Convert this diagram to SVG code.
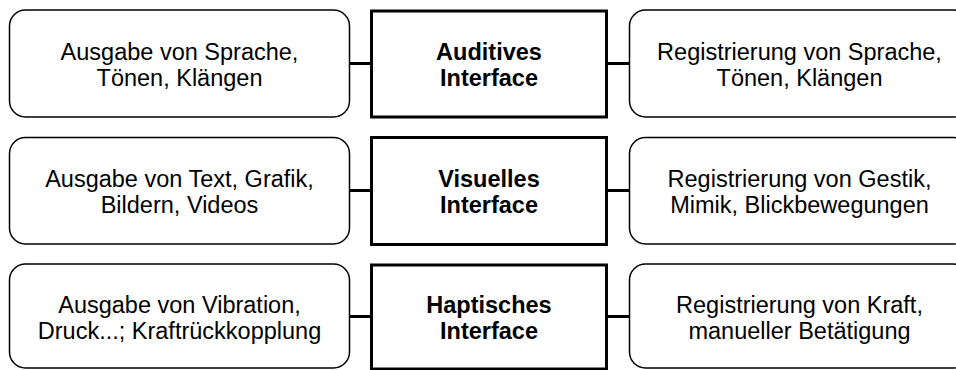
<svg xmlns="http://www.w3.org/2000/svg" width="956" height="370" viewBox="0 0 956 370">
  <style>
    .side { fill: #ffffff; stroke: #000000; stroke-width: 1.5; }
    .core { fill: #ffffff; stroke: #000000; stroke-width: 3; }
    .conn { stroke: #000000; stroke-width: 3; fill: none; }
    text { font-family: "Liberation Sans", Arial, sans-serif; font-size: 23.5px; fill: #000000; text-anchor: middle; }
    .bold { font-weight: bold; }
  </style>
  <rect x="0" y="0" width="956" height="370" fill="#ffffff"/>
  <g id="connectors">
    <line class="conn" x1="349" y1="63.5" x2="371" y2="63.5"/>
    <line class="conn" x1="606" y1="63.5" x2="629" y2="63.5"/>
    <line class="conn" x1="349" y1="190.5" x2="371" y2="190.5"/>
    <line class="conn" x1="606" y1="190.5" x2="629" y2="190.5"/>
    <line class="conn" x1="349" y1="316.5" x2="371" y2="316.5"/>
    <line class="conn" x1="606" y1="316.5" x2="629" y2="316.5"/>
  </g>
  <g id="out-audio">
    <rect class="side" x="9.5" y="10" width="340" height="107" rx="16"/>
    <text x="179.5" y="59.5">Ausgabe von Sprache,</text>
    <text x="179.5" y="85.5">Tönen, Klängen</text>
  </g>
  <g id="if-audio">
    <rect class="core" x="371.5" y="11" width="235" height="106"/>
    <text class="bold" x="489" y="59.5">Auditives</text>
    <text class="bold" x="489" y="85.5">Interface</text>
  </g>
  <g id="in-audio">
    <rect class="side" x="629.5" y="10" width="340" height="107" rx="16"/>
    <text x="799.5" y="59.5">Registrierung von Sprache,</text>
    <text x="799.5" y="85.5">Tönen, Klängen</text>
  </g>
  <g id="out-visual">
    <rect class="side" x="9.5" y="137.5" width="340" height="106.5" rx="16"/>
    <text x="179.5" y="186.5">Ausgabe von Text, Grafik,</text>
    <text x="179.5" y="212.5">Bildern, Videos</text>
  </g>
  <g id="if-visual">
    <rect class="core" x="371.5" y="137.5" width="235" height="107"/>
    <text class="bold" x="489" y="186.5">Visuelles</text>
    <text class="bold" x="489" y="212.5">Interface</text>
  </g>
  <g id="in-visual">
    <rect class="side" x="629.5" y="137.5" width="340" height="106.5" rx="16"/>
    <text x="799.5" y="186.5">Registrierung von Gestik,</text>
    <text x="799.5" y="212.5">Mimik, Blickbewegungen</text>
  </g>
  <g id="out-haptic">
    <rect class="side" x="9.5" y="264" width="340" height="104" rx="16"/>
    <text x="179.5" y="312.5">Ausgabe von Vibration,</text>
    <text x="179.5" y="338.5">Druck...; Kraftrückkopplung</text>
  </g>
  <g id="if-haptic">
    <rect class="core" x="371.5" y="265" width="235" height="104"/>
    <text class="bold" x="489" y="312.5">Haptisches</text>
    <text class="bold" x="489" y="338.5">Interface</text>
  </g>
  <g id="in-haptic">
    <rect class="side" x="629.5" y="264" width="340" height="104" rx="16"/>
    <text x="799.5" y="312.5">Registrierung von Kraft,</text>
    <text x="799.5" y="338.5">manueller Betätigung</text>
  </g>
</svg>
